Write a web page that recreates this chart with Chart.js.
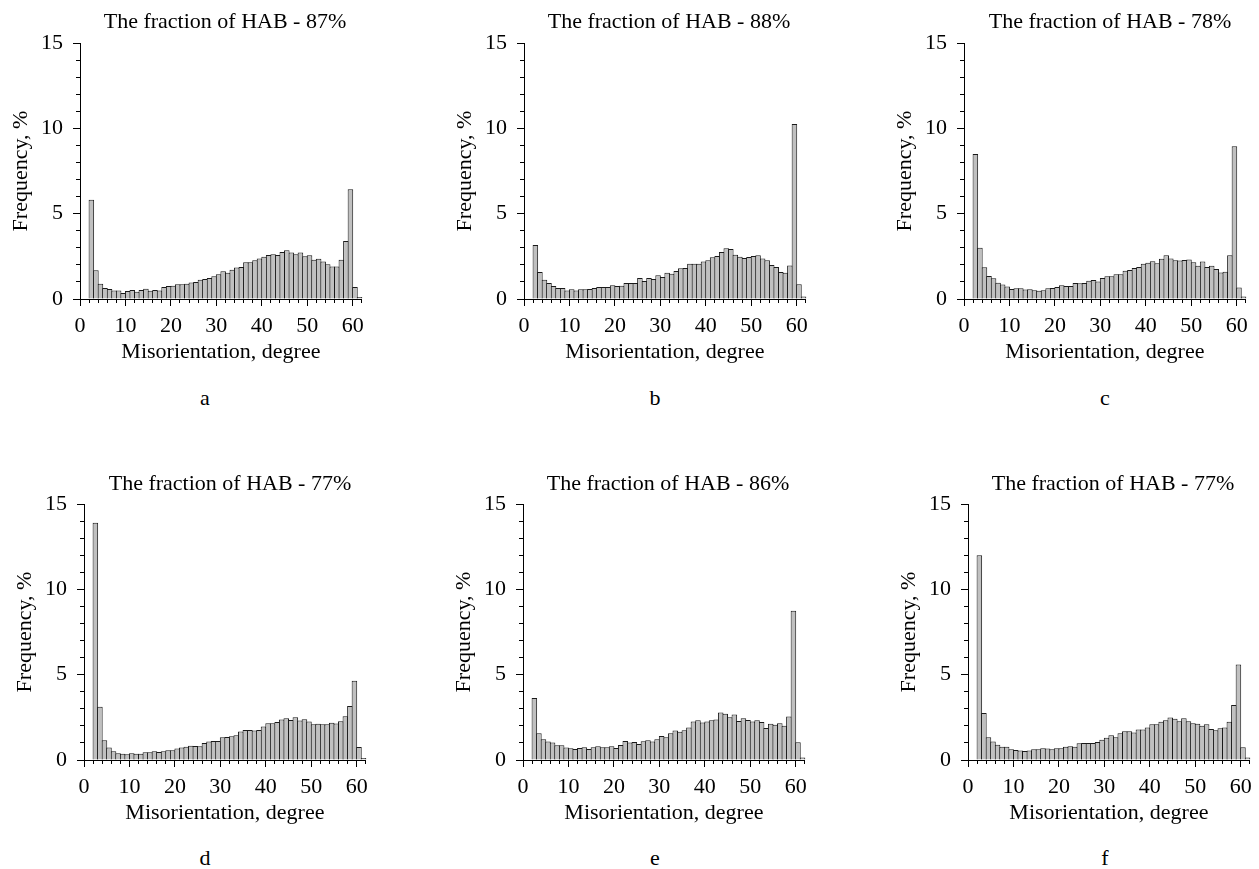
<!DOCTYPE html>
<html>
<head>
<meta charset="utf-8">
<script src="https://cdn.jsdelivr.net/npm/chart.js@4.4.1/dist/chart.umd.min.js"></script>
<style>
  html, body { margin: 0; padding: 0; background: #fff; overflow: hidden; }
  body { width: 1259px; height: 869px; position: relative; }
  .panel { position: absolute; }
  .txt { position: absolute; text-align: center; font: 22px 'Liberation Serif', 'Times New Roman', serif; line-height: 26px; color: #000; white-space: nowrap; }
  .ttl { width: 300px; }
  .sub { width: 100px; }
</style>
</head>
<body>
<div class="panel" style="left:1px;top:0px;width:370px;height:374px"><canvas id="chartA"></canvas></div>
<div class="panel" style="left:445px;top:0px;width:370px;height:374px"><canvas id="chartB"></canvas></div>
<div class="panel" style="left:885px;top:0px;width:370px;height:374px"><canvas id="chartC"></canvas></div>
<div class="panel" style="left:5px;top:461px;width:370px;height:374px"><canvas id="chartD"></canvas></div>
<div class="panel" style="left:444px;top:461px;width:370px;height:374px"><canvas id="chartE"></canvas></div>
<div class="panel" style="left:889px;top:461px;width:370px;height:374px"><canvas id="chartF"></canvas></div>
<div class="txt ttl" id="ttlA" style="left:75px;top:8px"></div>
<div class="txt ttl" id="ttlB" style="left:519px;top:8px"></div>
<div class="txt ttl" id="ttlC" style="left:960px;top:8px"></div>
<div class="txt ttl" id="ttlD" style="left:80px;top:470px"></div>
<div class="txt ttl" id="ttlE" style="left:518px;top:470px"></div>
<div class="txt ttl" id="ttlF" style="left:963px;top:470px"></div>
<div class="txt sub" id="subA" style="left:155px;top:385px"></div>
<div class="txt sub" id="subB" style="left:605px;top:385px"></div>
<div class="txt sub" id="subC" style="left:1055px;top:385px"></div>
<div class="txt sub" id="subD" style="left:155px;top:845px"></div>
<div class="txt sub" id="subE" style="left:605px;top:845px"></div>
<div class="txt sub" id="subF" style="left:1055px;top:845px"></div>
<script>
// Bin centres of the 1-degree misorientation bins (2..62 deg)
const binCenters = [2.5, 3.5, 4.5, 5.5, 6.5, 7.5, 8.5, 9.5, 10.5, 11.5,
  12.5, 13.5, 14.5, 15.5, 16.5, 17.5, 18.5, 19.5, 20.5, 21.5,
  22.5, 23.5, 24.5, 25.5, 26.5, 27.5, 28.5, 29.5, 30.5, 31.5,
  32.5, 33.5, 34.5, 35.5, 36.5, 37.5, 38.5, 39.5, 40.5, 41.5,
  42.5, 43.5, 44.5, 45.5, 46.5, 47.5, 48.5, 49.5, 50.5, 51.5,
  52.5, 53.5, 54.5, 55.5, 56.5, 57.5, 58.5, 59.5, 60.5, 61.5];

// Frequency, % per bin for each sample
const freqA = [5.82, 1.68, 0.9, 0.64, 0.59, 0.5, 0.5, 0.35, 0.47, 0.53,
  0.43, 0.53, 0.6, 0.49, 0.53, 0.5, 0.7, 0.76, 0.78, 0.86,
  0.86, 0.9, 0.96, 1.0, 1.13, 1.17, 1.23, 1.33, 1.45, 1.62,
  1.54, 1.72, 1.84, 1.88, 2.15, 2.15, 2.27, 2.38, 2.48, 2.58,
  2.62, 2.58, 2.75, 2.85, 2.73, 2.62, 2.73, 2.5, 2.56, 2.3,
  2.36, 2.2, 2.03, 1.91, 1.91, 2.3, 3.4, 6.43, 0.7, 0.12];
const freqB = [3.16, 1.58, 1.13, 0.94, 0.76, 0.64, 0.64, 0.5, 0.57, 0.5,
  0.57, 0.57, 0.59, 0.64, 0.7, 0.7, 0.7, 0.8, 0.76, 0.78,
  0.94, 0.94, 0.94, 1.23, 1.05, 1.23, 1.17, 1.39, 1.29, 1.54,
  1.48, 1.64, 1.8, 1.82, 2.07, 2.07, 2.07, 2.2, 2.27, 2.44,
  2.52, 2.75, 2.97, 2.93, 2.6, 2.48, 2.4, 2.46, 2.52, 2.56,
  2.38, 2.27, 1.99, 1.88, 1.58, 1.54, 1.97, 10.25, 0.86, 0.14];
const freqC = [8.5, 3.0, 1.86, 1.35, 1.22, 0.95, 0.85, 0.73, 0.59, 0.63,
  0.63, 0.55, 0.57, 0.51, 0.49, 0.51, 0.63, 0.65, 0.71, 0.8,
  0.76, 0.76, 0.94, 0.92, 0.94, 1.07, 1.11, 1.03, 1.23, 1.33,
  1.33, 1.45, 1.45, 1.66, 1.7, 1.82, 1.88, 2.07, 2.13, 2.21,
  2.09, 2.36, 2.56, 2.38, 2.27, 2.25, 2.29, 2.32, 2.15, 1.95,
  2.19, 1.88, 1.95, 1.76, 1.56, 1.6, 2.56, 8.95, 0.68, 0.14];
const freqD = [13.9, 3.12, 1.16, 0.73, 0.51, 0.39, 0.37, 0.33, 0.39, 0.37,
  0.37, 0.45, 0.45, 0.51, 0.47, 0.51, 0.57, 0.57, 0.67, 0.73,
  0.78, 0.84, 0.82, 0.8, 1.0, 1.08, 1.12, 1.12, 1.33, 1.35,
  1.39, 1.45, 1.67, 1.76, 1.76, 1.73, 1.76, 1.96, 2.16, 2.16,
  2.22, 2.37, 2.45, 2.35, 2.51, 2.31, 2.39, 2.25, 2.1, 2.12,
  2.1, 2.1, 2.18, 2.14, 2.27, 2.57, 3.16, 4.64, 0.76, 0.12];
const freqE = [3.63, 1.57, 1.22, 1.08, 1.02, 0.86, 0.86, 0.73, 0.69, 0.65,
  0.71, 0.75, 0.65, 0.75, 0.8, 0.75, 0.75, 0.8, 0.71, 0.88,
  1.12, 1.02, 1.06, 0.94, 1.1, 1.16, 1.08, 1.22, 1.41, 1.33,
  1.57, 1.73, 1.65, 1.75, 1.9, 2.25, 2.33, 2.2, 2.25, 2.33,
  2.37, 2.78, 2.71, 2.51, 2.67, 2.29, 2.45, 2.35, 2.25, 2.33,
  2.22, 1.88, 2.12, 2.06, 2.16, 2.0, 2.55, 8.75, 1.04, 0.14];
const freqF = [12.0, 2.75, 1.33, 1.08, 0.9, 0.78, 0.78, 0.63, 0.59, 0.55,
  0.53, 0.55, 0.63, 0.63, 0.69, 0.67, 0.63, 0.69, 0.69, 0.78,
  0.8, 0.78, 0.98, 1.0, 1.0, 1.0, 1.06, 1.18, 1.31, 1.45,
  1.33, 1.57, 1.69, 1.69, 1.61, 1.78, 1.78, 1.9, 2.1, 2.1,
  2.24, 2.33, 2.49, 2.41, 2.27, 2.45, 2.27, 2.16, 2.12, 2.0,
  2.1, 1.82, 1.75, 1.86, 1.9, 2.24, 3.22, 5.59, 0.75, 0.14];

const hab = ['87%', '88%', '78%', '77%', '86%', '77%'];
const panelLetters = ['a', 'b', 'c', 'd', 'e', 'f'];

const serif = "'Liberation Serif', 'Times New Roman', serif";
const font22 = { family: serif, size: 22, weight: 'normal' };

const makePanel = (canvasId, values) => {
  const ctx = document.getElementById(canvasId).getContext('2d');
  return new Chart(ctx, {
    type: 'bar',
    data: {
      datasets: [{
        data: binCenters.map((x, i) => ({ x: x, y: values[i] })),
        backgroundColor: '#c0c0c0',
        borderColor: '#1a1a1a',
        borderWidth: 1,
        borderSkipped: 'start',
        barPercentage: 1.22,
        categoryPercentage: 1,
        clip: false
      }]
    },
    options: {
      responsive: true,
      maintainAspectRatio: false,
      animation: false,
      events: [],
      layout: { padding: { left: 0, right: 8, top: 43, bottom: 0 } },
      plugins: {
        legend: { display: false },
        tooltip: { enabled: false }
      },
      scales: {
        x: {
          type: 'linear', position: 'bottom', weight: 1, offset: false,
          min: 0, max: 62,
          ticks: { stepSize: 10, includeBounds: false, color: '#000', font: font22, padding: 7, maxRotation: 0 },
          grid: { offset: false, drawOnChartArea: false, tickLength: 7, color: '#000' },
          border: { color: '#000', width: 1 },
          title: { display: true, text: 'Misorientation, degree', color: '#000', font: font22, padding: { top: 0, bottom: 9 } },
          afterFit: (s) => { s.height = 75; }
        },
        x2: {
          type: 'linear', position: 'bottom', weight: 0, offset: false,
          min: 0, max: 62,
          ticks: { stepSize: 2, includeBounds: false, display: false },
          grid: { offset: false, drawOnChartArea: false, tickLength: 4, color: '#000' },
          border: { display: false },
          afterFit: (s) => { s.height = 0; }
        },
        y: {
          type: 'linear', position: 'left', weight: 1,
          min: 0, max: 15,
          ticks: { stepSize: 5, color: '#000', font: font22, padding: 10 },
          grid: { drawOnChartArea: false, tickLength: 7, color: '#000' },
          border: { color: '#000', width: 1 },
          title: { display: true, text: 'Frequency, %', color: '#000', font: font22, padding: { top: 7, bottom: 0 } },
          afterFit: (s) => { s.width = 79; }
        },
        y2: {
          type: 'linear', position: 'left', weight: 0,
          min: 0, max: 15,
          ticks: { stepSize: 1, display: false },
          grid: { drawOnChartArea: false, tickLength: 4, color: '#000' },
          border: { display: false },
          afterFit: (s) => { s.width = 0; }
        }
      }
    }
  });
};

document.addEventListener('DOMContentLoaded', () => {
  const ids = ['A', 'B', 'C', 'D', 'E', 'F'];
  const series = [freqA, freqB, freqC, freqD, freqE, freqF];
  ids.forEach((id, i) => {
    makePanel('chart' + id, series[i]);
    document.getElementById('ttl' + id).textContent = 'The fraction of HAB - ' + hab[i];
    document.getElementById('sub' + id).textContent = panelLetters[i];
  });
});
</script>
</body>
</html>
